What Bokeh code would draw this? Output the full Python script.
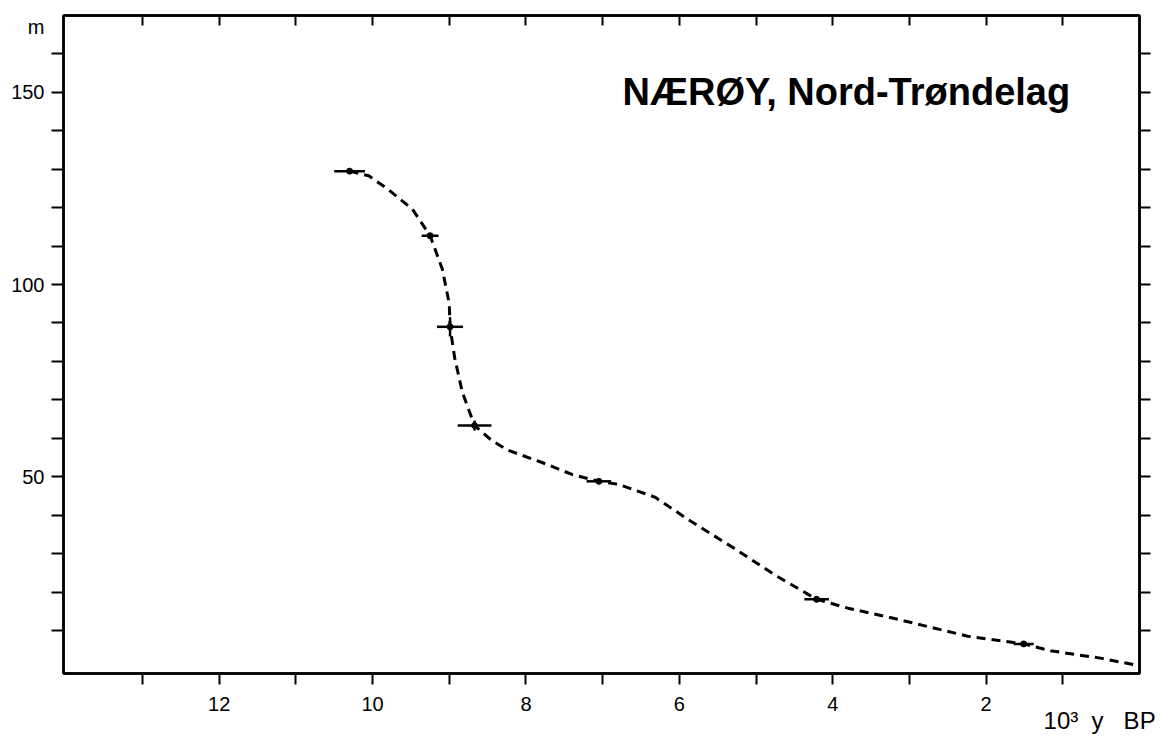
from bokeh.plotting import figure
from bokeh.models import Range1d, LinearAxis, FixedTicker, Label, ColumnDataSource
from bokeh.embed import file_html
from bokeh.resources import INLINE

# Shoreline displacement curve (ages in 10^3 years BP, elevation in m)
curve_age = [10.3, 10.05, 9.8, 9.48, 9.25, 9.09, 9.0, 8.99, 8.93, 8.83, 8.67,
             8.45, 8.25, 7.79, 7.4, 7.05, 6.79, 6.32, 5.88, 5.28, 4.76, 4.21,
             3.8, 3.15, 2.24, 1.51, 1.16, 0.51, 0.0]
curve_elev = [129.5, 128.3, 124.8, 119.6, 112.7, 104, 95, 89, 81, 72, 63.3,
              59.5, 57.0, 53.7, 50.6, 48.8, 48.0, 44.7, 38.8, 31.3, 24.5, 18.1,
              15.8, 12.9, 8.5, 6.5, 4.7, 2.8, 0.8]

# Dated points with uncertainty
pt_age = [10.3, 9.25, 8.99, 8.67, 7.05, 4.21, 1.51]
pt_elev = [129.5, 112.7, 89.0, 63.3, 48.8, 18.1, 6.5]
pt_age_err = [0.2, 0.11, 0.17, 0.22, 0.16, 0.16, 0.13]
pt_elev_err = [0.0, 0.0, 2.5, 1.3, 0.0, 0.0, 0.0]

x_major = [2, 4, 6, 8, 10, 12]
x_minor = [1, 3, 5, 7, 9, 11, 13]
x_all = [1, 2, 3, 4, 5, 6, 7, 8, 9, 10, 11, 12, 13]
y_labeled = [50, 100, 150]
y_all = [10, 20, 30, 40, 50, 60, 70, 80, 90, 100, 110, 120, 130, 140, 150, 160]

title_text = "NÆRØY, Nord-Trøndelag"
y_unit = "m"
y_unit_pos = 167
x_unit = "10³\u00a0\u00a0y\u00a0\u00a0\u00a0BP"
x_unit_pos = 0.52

W, H = 1158, 739
p = figure(width=W, height=H, x_range=Range1d(14.03, 0), y_range=Range1d(-1.2, 170),
           output_backend="svg", toolbar_location=None,
           min_border_left=63, min_border_right=19, min_border_top=15, min_border_bottom=66)
p.grid.visible = False
p.outline_line_color = "black"
p.outline_line_width = 2.5
p.background_fill_color = "white"
p.border_fill_color = "white"

tick_font = "Liberation Sans"

def style_axis(ax, tin, tout):
    ax.axis_line_width = 2.5
    ax.axis_line_color = "black"
    ax.major_tick_in = tin
    ax.major_tick_out = tout
    ax.minor_tick_in = tin
    ax.minor_tick_out = tout
    ax.major_tick_line_width = 2
    ax.minor_tick_line_width = 2
    ax.major_tick_line_color = "black"
    ax.minor_tick_line_color = "black"
    ax.major_label_text_font = tick_font
    ax.major_label_text_font_size = "20px"
    ax.major_label_text_color = "black"

# bottom axis
xb = p.xaxis[0]
xb.ticker = FixedTicker(ticks=x_major, minor_ticks=x_minor)
style_axis(xb, 0, 11)
xb.major_label_standoff = 12

# second, tickless bottom axis carrying the unit text
xu = LinearAxis(ticker=FixedTicker(ticks=[x_unit_pos], minor_ticks=[]))
xu.axis_line_color = None
xu.major_tick_line_color = None
xu.major_tick_in = 0
xu.major_tick_out = 0
xu.major_label_overrides = {x_unit_pos: x_unit}
xu.major_label_text_font = tick_font
xu.major_label_text_font_size = "24px"
xu.major_label_text_color = "black"
xu.major_label_standoff = -7
p.add_layout(xu, "below")

# left axis: ticks drawn as minor ticks, labels (incl. unit) as zero-length majors
yl = p.yaxis[0]
yl.ticker = FixedTicker(ticks=y_labeled + [y_unit_pos], minor_ticks=y_all)
style_axis(yl, 0, 12)
yl.major_tick_out = 0
yl.major_tick_line_color = None
yl.major_label_standoff = 7
yl.major_label_overrides = {y_unit_pos: y_unit}

# top and right axes: ticks only (minor-only tickers carry no labels)
xt = LinearAxis(ticker=FixedTicker(ticks=[], minor_ticks=x_all))
style_axis(xt, 10, 0)
xt.major_label_standoff = 0
p.add_layout(xt, "above")

yr = LinearAxis(ticker=FixedTicker(ticks=[], minor_ticks=y_all))
style_axis(yr, 0, 11)
yr.major_label_standoff = 0
p.add_layout(yr, "right")

# curve
p.line(curve_age, curve_elev, line_color="black", line_width=3, line_dash="9 6")

# error bars and points
src = ColumnDataSource(dict(
    x=pt_age, y=pt_elev,
    x0=[a - e for a, e in zip(pt_age, pt_age_err)],
    x1=[a + e for a, e in zip(pt_age, pt_age_err)],
    y0=[a - e for a, e in zip(pt_elev, pt_elev_err)],
    y1=[a + e for a, e in zip(pt_elev, pt_elev_err)],
))
p.segment(x0="x0", y0="y", x1="x1", y1="y", source=src, line_color="black", line_width=2.5)
p.segment(x0="x", y0="y0", x1="x", y1="y1", source=src, line_color="black", line_width=2.5)
p.scatter(x="x", y="y", source=src, size=6, color="black")

p.add_layout(Label(x=6.74, y=150.0, text=title_text, text_font="Liberation Sans",
                   text_font_style="bold", text_font_size="38px", text_color="black",
                   text_align="left", text_baseline="alphabetic"))

open("out.html", "w").write(file_html(p, INLINE))
